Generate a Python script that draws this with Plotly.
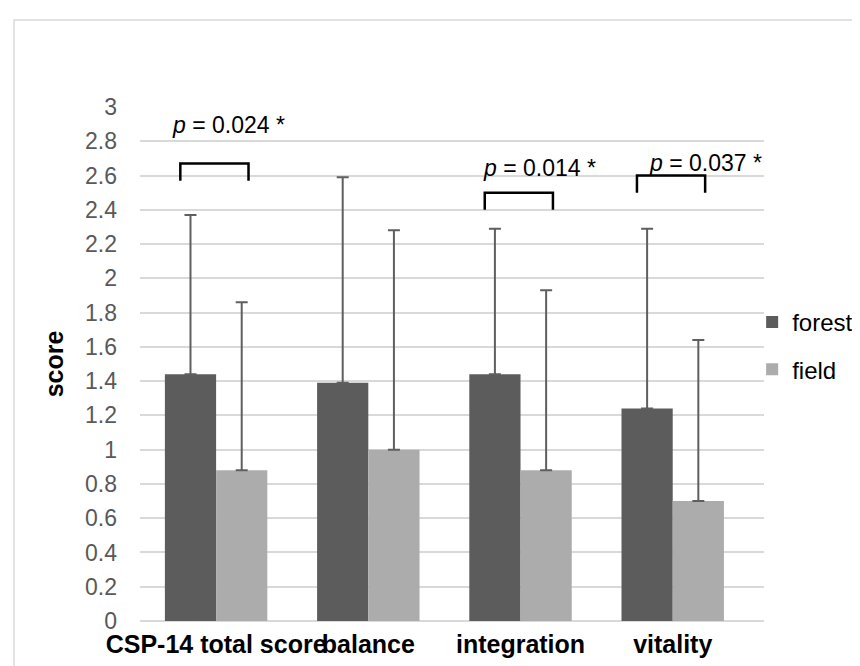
import plotly.graph_objects as go

categories = ["CSP-14 total score", "balance", "integration", "vitality"]
forest_mean = [1.44, 1.39, 1.44, 1.24]
forest_sd = [0.93, 1.20, 0.85, 1.05]
field_mean = [0.88, 1.00, 0.88, 0.70]
field_sd = [0.98, 1.28, 1.05, 0.94]

# significance brackets: category index, bracket base, label text, label position
sig_index = [0, 2, 3]
sig_base = [2.57, 2.40, 2.50]
sig_label = ["<i>p</i> = 0.024 *", "<i>p</i> = 0.014 *", "<i>p</i> = 0.037 *"]
sig_label_y = [2.895, 2.643, 2.671]
sig_label_dx = [-0.303, -0.258, -0.169]

y_ticks = [0, 0.2, 0.4, 0.6, 0.8, 1, 1.2, 1.4, 1.6, 1.8, 2, 2.2, 2.4, 2.6, 2.8, 3]

FONT = "Arial, 'Liberation Sans', sans-serif"

fig = go.Figure()
fig.add_trace(go.Bar(
    name="forest", x=categories, y=forest_mean,
    marker=dict(color="#5c5c5c", line=dict(width=0)),
    error_y=dict(type="data", array=forest_sd, arrayminus=[0]*4, symmetric=False,
                 color="#5f5f5f", thickness=2, width=6),
    legendgroup="a",
))
fig.add_trace(go.Bar(
    name="field", x=categories, y=field_mean,
    marker=dict(color="#acacac", line=dict(width=0)),
    error_y=dict(type="data", array=field_sd, arrayminus=[0]*4, symmetric=False,
                 color="#5f5f5f", thickness=2, width=6),
    legendgroup="b",
))

shapes = []
annotations = []
for i, base, lab, ly, dx in zip(sig_index, sig_base, sig_label, sig_label_y, sig_label_dx):
    x0 = i - 0.235
    x1 = i + 0.213
    top = base + 0.10
    shapes.append(dict(type="path", xref="x", yref="y",
                       path=f"M {x0} {base} L {x0} {top} L {x1} {top} L {x1} {base}",
                       line=dict(color="black", width=2.5)))
    annotations.append(dict(x=i + dx, y=ly, xref="x", yref="y", text=lab,
                            showarrow=False, xanchor="left", yanchor="middle",
                            font=dict(family=FONT, size=23, color="black")))

# outer chart border
shapes.append(dict(type="rect", xref="paper", yref="paper",
                   x0=-0.2019, x1=1.25, y0=-0.2, y1=1.1694,
                   line=dict(color="#d9d9d9", width=1.5), layer="below"))

fig.update_layout(
    width=860, height=666,
    margin=dict(l=132, r=104, t=99, b=53, autoexpand=False),
    paper_bgcolor="white", plot_bgcolor="white",
    barmode="group", bargap=0.327, bargroupgap=0,
    font=dict(family=FONT, color="#595959"),
    shapes=shapes, annotations=annotations,
    legend=dict(x=0.981, y=0.535, xanchor="left", yanchor="middle",
                traceorder="grouped", tracegroupgap=13,
                bgcolor="rgba(0,0,0,0)",
                font=dict(family=FONT, size=24, color="black")),
    xaxis=dict(tickangle=0, showgrid=False, showline=False, zeroline=False,
               tickfont=dict(family=FONT, size=25, color="black", weight="bold"),
               ticks="", ticklabelstandoff=6),
    yaxis=dict(range=[0, 3], tickvals=y_ticks, ticktext=[f"{v:g}" for v in y_ticks],
               showgrid=True, gridcolor="#d9d9d9", gridwidth=1.5,
               zeroline=True, zerolinecolor="#d9d9d9", zerolinewidth=2,
               showline=False, ticks="", ticklabelstandoff=22,
               tickfont=dict(family=FONT, size=23, color="#595959"),
               title=dict(text="<b>score</b>", standoff=14,
                          font=dict(family=FONT, size=25, color="black"))),
)

fig.write_html("out.html")
